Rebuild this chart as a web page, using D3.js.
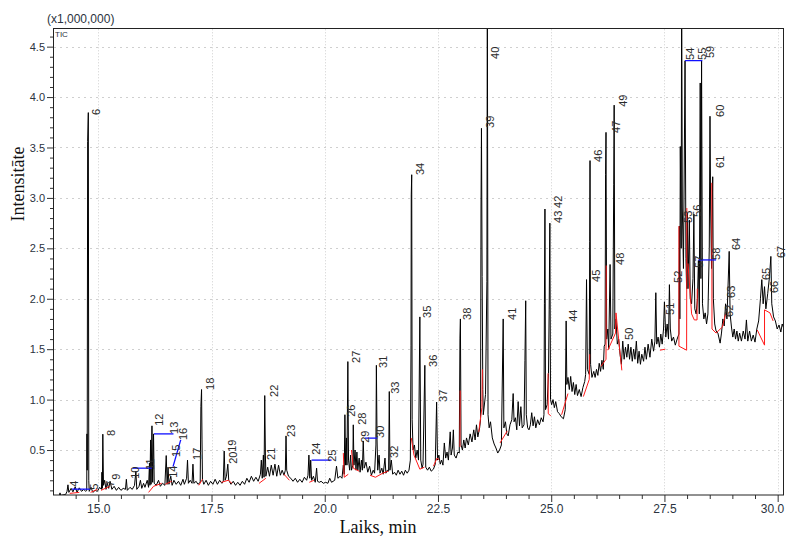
<!DOCTYPE html>
<html>
<head>
<meta charset="utf-8">
<script src="https://cdn.jsdelivr.net/npm/d3@7"></script>
<style>
  html, body { margin: 0; padding: 0; background: #fff; }
  svg { display: block; font-family: Arial, "Liberation Sans", sans-serif; }
</style>
</head>
<body>
<svg id="chart" width="786" height="536"></svg>
<script>
// Total ion chromatogram (TIC), intensity in millions of counts vs retention time (min)

const timeTicks = [15.0, 17.5, 20.0, 22.5, 25.0, 27.5, 30.0];
const intensityTicks = [0.5, 1.0, 1.5, 2.0, 2.5, 3.0, 3.5, 4.0, 4.5];

// Detector trace, 14-19 min
const traceEarly = [
  [14.00,0.04],[14.14,0.05],[14.155,0.075],[14.17,0.05],[14.28,0.06],[14.31,0.09],[14.33,0.155],[14.35,0.08],
  [14.40,0.12],[14.44,0.085],[14.49,0.135],[14.53,0.08],[14.58,0.125],[14.63,0.09],[14.68,0.11],[14.72,0.09],
  [14.745,0.10],[14.75,0.66],[14.755,0.30],[14.765,3.56],[14.78,3.846],[14.79,0.20],[14.80,0.09],[14.84,0.13],
  [14.88,0.08],[14.93,0.10],[14.98,0.09],[15.03,0.13],[15.07,0.11],[15.08,0.28],[15.09,0.12],[15.10,0.657],
  [15.115,0.15],[15.14,0.20],[15.17,0.11],[15.20,0.17],[15.23,0.12],[15.26,0.19],[15.30,0.11],[15.35,0.14],
  [15.40,0.10],[15.45,0.13],[15.50,0.10],[15.55,0.12],[15.60,0.11],[15.62,0.21],[15.64,0.10],[15.70,0.13],
  [15.75,0.11],[15.80,0.15],[15.83,0.29],[15.85,0.11],[15.90,0.14],[15.93,0.20],[15.96,0.12],[16.00,0.17],
  [16.03,0.13],[16.08,0.20],[16.11,0.13],[16.13,0.37],[16.14,0.15],[16.155,0.60],[16.165,0.16],[16.185,0.74],
  [16.20,0.18],[16.22,0.66],[16.235,0.17],[16.28,0.15],[16.33,0.20],[16.37,0.14],[16.42,0.17],[16.47,0.15],
  [16.50,0.445],[16.52,0.16],[16.54,0.33],[16.56,0.16],[16.60,0.24],[16.63,0.15],[16.67,0.20],[16.72,0.16],
  [16.77,0.19],[16.82,0.15],[16.87,0.21],[16.90,0.16],[16.95,0.22],[16.97,0.40],[16.99,0.17],[17.03,0.20],
  [17.07,0.17],[17.09,0.36],[17.11,0.17],[17.16,0.19],[17.20,0.16],[17.25,0.18],[17.265,0.93],[17.28,1.10],
  [17.29,0.60],[17.30,0.21],[17.33,0.16],[17.38,0.20],[17.43,0.15],[17.48,0.19],[17.53,0.16],[17.58,0.21],
  [17.63,0.16],[17.68,0.20],[17.73,0.17],[17.76,0.19],[17.78,0.49],[17.80,0.20],[17.83,0.24],[17.86,0.36],
  [17.88,0.20],[17.93,0.16],[17.98,0.19],[18.03,0.15],[18.08,0.18],[18.13,0.15],[18.18,0.19],[18.23,0.16],
  [18.28,0.22],[18.33,0.18],[18.38,0.24],[18.43,0.19],[18.48,0.23],[18.53,0.19],[18.58,0.26],[18.60,0.40],
  [18.62,0.22],[18.645,0.45],[18.66,0.23],[18.675,1.04],[18.69,0.45],[18.70,0.24],[18.74,0.33],[18.78,0.24],
  [18.82,0.35],[18.86,0.25],[18.90,0.36],[18.94,0.24],[18.98,0.35]
];

// Detector trace, 19-24.5 min
const traceMiddle = [
  [19.02,0.25],[19.06,0.30],[19.10,0.25],[19.13,0.30],[19.145,0.64],[19.16,0.30],[19.20,0.24],[19.25,0.22],
  [19.30,0.19],[19.35,0.22],[19.40,0.18],[19.45,0.21],[19.50,0.18],[19.55,0.23],[19.60,0.20],[19.63,0.25],
  [19.65,0.45],[19.67,0.22],[19.69,0.40],[19.71,0.20],[19.75,0.24],[19.79,0.18],[19.82,0.32],[19.84,0.19],
  [19.88,0.18],[19.92,0.19],[19.97,0.17],[20.02,0.18],[20.07,0.17],[20.11,0.22],[20.15,0.18],[20.22,0.20],
  [20.26,0.34],[20.29,0.22],[20.34,0.24],[20.38,0.22],[20.41,0.35],[20.43,0.26],[20.445,0.85],[20.46,0.35],
  [20.48,0.62],[20.49,0.35],[20.51,1.377],[20.525,0.40],[20.55,0.30],[20.57,0.45],[20.59,0.30],[20.62,0.35],
  [20.63,0.75],[20.645,0.35],[20.67,0.50],[20.69,0.30],[20.71,0.48],[20.73,0.30],[20.76,0.42],[20.78,0.28],
  [20.81,0.40],[20.83,0.30],[20.85,0.59],[20.87,0.32],[20.91,0.38],[20.95,0.28],[20.99,0.34],[21.03,0.25],
  [21.07,0.30],[21.10,0.27],[21.13,0.55],[21.14,1.34],[21.155,0.60],[21.17,0.30],[21.20,0.45],[21.22,0.27],
  [21.26,0.32],[21.29,0.26],[21.33,0.42],[21.35,0.27],[21.38,0.30],[21.41,0.29],[21.425,1.08],[21.44,0.30],
  [21.47,0.40],[21.50,0.26],[21.54,0.28],[21.58,0.25],[21.62,0.30],[21.66,0.26],[21.70,0.29],[21.74,0.25],
  [21.78,0.30],[21.82,0.27],[21.86,0.30],[21.89,0.40],[21.905,1.54],[21.91,3.03],[21.92,3.23],[21.93,0.80],
  [21.95,0.50],[21.98,0.55],[22.01,0.42],[22.04,0.50],[22.07,0.40],[22.10,1.82],[22.12,0.40],[22.15,0.32],
  [22.17,0.36],[22.21,1.34],[22.23,0.33],[22.27,0.30],[22.31,0.33],[22.35,0.29],[22.40,0.31],[22.44,0.36],
  [22.47,0.975],[22.49,0.40],[22.52,0.45],[22.55,0.36],[22.58,0.40],[22.61,0.35],[22.64,0.57],[22.67,0.42],
  [22.70,0.48],[22.73,0.40],[22.77,0.68],[22.79,0.45],[22.82,0.52],[22.84,0.70],[22.86,0.45],[22.90,0.42],
  [22.94,0.48],[22.97,0.47],[22.985,1.61],[22.995,1.80],[23.01,0.55],[23.04,0.50],[23.07,0.60],[23.10,0.52],
  [23.13,0.62],[23.17,0.55],[23.21,0.66],[23.25,0.58],[23.29,0.70],[23.32,0.60],[23.35,0.75],[23.38,0.63],
  [23.42,0.72],[23.44,0.80],[23.45,2.91],[23.46,3.69],[23.475,2.22],[23.49,1.10],[23.50,0.85],[23.55,1.05],
  [23.58,2.17],[23.59,5.20],[23.605,0.85],[23.63,0.72],[23.66,0.78],[23.70,0.62],[23.74,0.56],[23.78,0.52],
  [23.82,0.47],[23.86,0.50],[23.90,0.55],[23.94,1.80],[23.955,0.72],[23.99,0.78],[24.02,0.66],[24.05,0.64],
  [24.09,0.75],[24.13,0.80],[24.16,1.06],[24.18,0.78],[24.21,0.82],[24.24,0.70],[24.27,0.98],[24.30,0.74],
  [24.33,0.93],[24.36,0.72],[24.40,0.75],[24.42,1.39],[24.437,1.98],[24.45,0.85],[24.48,0.72]
];

// Detector trace, 24.5-30.1 min
const traceLate = [
  [24.51,0.70],[24.54,0.75],[24.57,0.87],[24.60,0.74],[24.63,0.83],[24.66,0.72],[24.70,0.80],[24.74,0.75],
  [24.78,0.82],[24.82,0.78],[24.84,0.85],[24.85,1.95],[24.862,2.89],[24.875,0.90],[24.91,0.95],[24.94,1.26],
  [24.955,1.89],[24.97,2.75],[24.985,1.00],[25.01,0.95],[25.04,1.00],[25.07,0.92],[25.10,0.98],[25.14,0.88],
  [25.18,0.86],[25.22,0.83],[25.27,0.81],[25.31,0.90],[25.33,1.78],[25.345,1.15],[25.37,1.22],[25.40,1.10],
  [25.43,1.23],[25.46,1.08],[25.49,1.17],[25.52,1.05],[25.55,1.15],[25.58,1.04],[25.62,1.10],[25.66,1.03],
  [25.70,1.12],[25.74,1.18],[25.76,1.25],[25.78,2.19],[25.80,1.30],[25.84,1.25],[25.85,2.57],[25.857,3.37],
  [25.87,1.35],[25.90,1.22],[25.94,1.28],[25.97,1.22],[26.00,1.30],[26.03,1.24],[26.06,1.36],[26.09,1.28],
  [26.12,1.39],[26.15,1.30],[26.17,1.53],[26.19,1.55],[26.20,3.23],[26.21,3.65],[26.225,1.60],[26.25,1.70],
  [26.27,1.50],[26.30,2.34],[26.32,1.60],[26.36,1.65],[26.38,3.13],[26.39,3.92],[26.405,1.70],[26.43,1.80],
  [26.46,1.55],[26.49,1.60],[26.52,1.45],[26.55,1.35],[26.58,1.58],[26.61,1.40],[26.64,1.52],[26.67,1.42],
  [26.70,1.55],[26.73,1.40],[26.76,1.52],[26.79,1.38],[26.82,1.50],[26.85,1.40],[26.88,1.58],[26.91,1.36],
  [26.94,1.48],[26.97,1.35],[27.00,1.45],[27.04,1.38],[27.07,1.52],[27.10,1.40],[27.14,1.55],[27.18,1.42],
  [27.22,1.60],[27.26,1.48],[27.29,1.58],[27.31,2.06],[27.33,1.55],[27.36,1.62],[27.39,1.52],[27.42,1.65],
  [27.45,1.55],[27.48,1.70],[27.50,1.97],[27.53,1.62],[27.56,1.75],[27.59,1.60],[27.61,2.14],[27.63,1.70],
  [27.66,1.58],[27.70,1.62],[27.74,1.54],[27.78,1.60],[27.82,1.65],[27.83,2.72],[27.84,1.80],[27.85,3.51],
  [27.87,2.50],[27.88,5.20],[27.895,2.90],[27.92,2.30],[27.955,4.36],[27.975,2.40],[27.99,2.10],[28.006,2.85],
  [28.02,2.10],[28.05,2.78],[28.07,2.00],[28.10,1.95],[28.13,2.20],[28.15,2.84],[28.17,1.90],[28.20,1.85],
  [28.23,2.00],[28.25,2.38],[28.27,1.85],[28.29,4.14],[28.305,2.20],[28.32,4.36],[28.34,1.95],[28.37,1.80],
  [28.40,1.86],[28.43,1.75],[28.46,1.85],[28.49,2.50],[28.506,3.81],[28.52,2.90],[28.54,2.30],[28.566,3.21],
  [28.58,2.00],[28.61,1.75],[28.64,1.68],[28.68,1.66],[28.73,1.56],[28.76,1.66],[28.79,1.80],[28.82,1.73],
  [28.85,1.95],[28.88,1.80],[28.93,2.47],[28.95,1.85],[28.98,1.72],[29.01,1.62],[29.04,1.70],[29.07,1.60],
  [29.10,1.68],[29.13,1.58],[29.16,1.66],[29.20,1.58],[29.24,1.68],[29.28,1.60],[29.31,1.79],[29.34,1.58],
  [29.38,1.68],[29.42,1.58],[29.46,1.64],[29.50,1.57],[29.54,1.70],[29.58,1.78],[29.62,2.00],[29.65,2.19],
  [29.68,1.95],[29.71,2.12],[29.74,1.90],[29.78,2.05],[29.82,2.22],[29.85,2.42],[29.87,1.95],[29.91,1.82],
  [29.95,1.78],[29.99,1.70],[30.03,1.74],[30.07,1.67],[30.10,1.75],[30.14,1.70]
];

// Integration baselines (red)
const integrationBaselines = [
  [[14.37,0.07],[14.58,0.08]],
  [[14.83,0.08],[14.98,0.11]],
  [[15.06,0.10],[15.25,0.14]],
  [[16.11,0.08],[16.22,0.14],[16.40,0.17]],
  [[16.48,0.16],[16.62,0.19]],
  [[17.22,0.15],[17.30,0.21]],
  [[17.72,0.18],[17.87,0.20],[17.95,0.17]],
  [[18.55,0.17],[18.70,0.22]],
  [[19.10,0.26],[19.22,0.20]],
  [[19.66,0.18],[19.76,0.20]],
  [[20.41,0.47],[20.43,0.23],[20.52,0.26]],
  [[20.59,0.50],[20.63,0.32],[20.76,0.29]],
  [[21.00,0.25],[21.12,0.23],[21.28,0.27],[21.40,0.29]],
  [[21.91,0.62],[21.97,0.45],[22.10,0.31],[22.20,0.33]],
  [[22.40,0.34],[22.48,0.42],[22.53,0.40]],
  [[22.985,0.53],[22.99,1.09]],
  [[23.40,0.68],[23.47,0.92],[23.48,1.30]],
  [[23.87,0.57],[24.03,0.69]],
  [[24.93,1.26],[24.935,0.86],[24.99,0.84]],
  [[25.23,0.85],[25.37,1.06]],
  [[25.71,1.03],[25.84,1.20],[25.85,1.45]],
  [[26.10,1.33],[26.21,1.40],[26.215,2.33]],
  [[26.25,1.49],[26.42,1.66],[26.43,1.86],[26.56,1.29]],
  [[27.40,1.49],[27.52,1.50]],
  [[27.82,2.72],[27.82,1.53],[27.99,1.49],[27.995,2.90]],
  [[28.02,2.35],[28.10,1.85],[28.16,1.79],[28.22,1.79],[28.225,2.10]],
  [[28.545,3.15],[28.55,1.70],[28.64,1.66],[28.78,1.72],[28.85,1.85]],
  [[29.55,1.69],[29.71,1.54],[29.71,1.89],[29.83,1.86],[29.90,1.78]]
];

// Unresolved-group markers (blue)
const groupMarkers = [
  [[14.42,0.112],[14.82,0.112]],
  [[15.76,0.32],[16.18,0.32]],
  [[16.23,0.66],[16.66,0.66]],
  [[16.65,0.335],[16.82,0.60]],
  [[19.71,0.40],[20.15,0.40]],
  [[20.89,0.618],[21.16,0.618]],
  [[27.955,4.361],[28.337,4.361]],
  [[28.25,2.385],[28.64,2.385]]
];

// Peak numbers and the point each number is written from
const peakIds = [4,5,6,7,8,9,10,11,12,13,14,15,16,17,18,19,20,21,22,23,24,25,26,27,28,29,30,31,32,33,34,35,
  36,37,38,39,40,41,42,43,44,45,46,47,48,49,50,51,52,53,54,55,56,57,58,59,60,61,62,63,64,65,66,67];
const peakTimes = [14.34,14.78,14.82,15.14,15.15,15.26,15.68,16.01,16.20,16.54,16.52,16.59,16.74,17.04,17.33,
  17.82,17.84,18.68,18.74,19.12,19.67,20.04,20.45,20.56,20.70,20.76,21.09,21.15,21.39,21.42,21.97,22.13,22.25,
  22.48,23.01,23.52,23.63,24.01,25.01,25.01,25.35,25.86,25.90,26.30,26.39,26.45,26.59,27.49,27.66,27.88,27.93,
  28.21,28.10,28.13,28.51,28.38,28.60,28.60,28.79,28.84,28.95,29.62,29.79,29.94];
const peakLabelHeights = [0.135,0.105,3.823,0.135,0.640,0.204,0.214,0.303,0.740,0.660,0.224,0.432,0.599,0.402,
  1.096,0.482,0.363,0.402,1.026,0.630,0.452,0.383,0.829,1.364,0.750,0.571,0.620,1.314,0.422,1.057,3.227,1.810,
  1.324,0.977,1.790,3.694,4.378,1.790,2.901,2.752,1.771,2.167,3.357,3.644,2.336,3.904,1.592,1.840,2.157,2.752,
  4.368,4.368,2.812,2.306,2.385,4.387,3.803,3.297,1.820,2.008,2.483,2.186,2.057,2.404];

const box = { left: 53, right: 784, top: 28.3, bottom: 495 };

const svg = d3.select("#chart");

const x = d3.scaleLinear().domain([14.0, 30.14]).range([box.left, box.right]);
const y = d3.scaleLinear().domain([0.054, 4.682]).range([box.bottom, box.top]);

svg.append("defs").append("clipPath").attr("id", "plotClip")
  .append("rect")
  .attr("x", box.left).attr("y", box.top)
  .attr("width", box.right - box.left).attr("height", box.bottom - box.top);

// Grid
const grid = svg.append("g").attr("stroke", "#cfcfcf").attr("stroke-width", 1).attr("fill", "none");
grid.selectAll("line.h").data(intensityTicks).join("line")
  .attr("class", "h")
  .attr("x1", box.left + 1).attr("x2", box.right - 1)
  .attr("y1", d => Math.round(y(d)) + 0.5).attr("y2", d => Math.round(y(d)) + 0.5)
  .attr("stroke-dasharray", "2,4");
grid.selectAll("line.v").data(timeTicks).join("line")
  .attr("class", "v")
  .attr("x1", d => Math.round(x(d)) + 0.5).attr("x2", d => Math.round(x(d)) + 0.5)
  .attr("y1", box.top + 1).attr("y2", box.bottom - 1)
  .attr("stroke-dasharray", "1,2");

// Chromatogram
const line = d3.line().x(d => x(d[0])).y(d => y(d[1]));
const plot = svg.append("g").attr("clip-path", "url(#plotClip)");
plot.append("path")
  .datum(traceEarly.concat(traceMiddle, traceLate))
  .attr("d", line)
  .attr("fill", "none")
  .attr("stroke", "#000")
  .attr("stroke-width", 1)
  .attr("stroke-linejoin", "miter");

plot.selectAll("path.base").data(integrationBaselines).join("path")
  .attr("class", "base")
  .attr("d", line)
  .attr("fill", "none")
  .attr("stroke", "#ff1a1a")
  .attr("stroke-width", 1);

plot.selectAll("path.group").data(groupMarkers).join("path")
  .attr("class", "group")
  .attr("d", line)
  .attr("fill", "none")
  .attr("stroke", "#1010ff")
  .attr("stroke-width", 1.3);

// Peak numbers, written upward from each anchor
svg.append("g")
  .selectAll("text").data(peakIds).join("text")
  .attr("transform", (d, i) => `translate(${x(peakTimes[i]) + 6},${y(peakLabelHeights[i])}) rotate(-90)`)
  .attr("dy", "0.35em")
  .attr("text-anchor", "start")
  .attr("font-size", 11)
  .attr("fill", "#2a2a2a")
  .text(d => d);

// Axes
const fmt = d3.format(".1f");
const yMinor = d3.range(1, 47).map(i => i / 10).filter(v => Math.abs(v * 2 - Math.round(v * 2)) > 1e-6);
const xMinor = d3.range(29, 61).map(i => i / 2).filter(v => !timeTicks.some(t => Math.abs(t - v) < 1e-6));

const yAxis = svg.append("g").attr("transform", `translate(${box.left},0)`)
  .call(d3.axisLeft(y).tickValues(intensityTicks).tickFormat(fmt).tickSizeInner(6).tickSizeOuter(0).tickPadding(2));
const yAxisMinor = svg.append("g").attr("transform", `translate(${box.left},0)`)
  .call(d3.axisLeft(y).tickValues(yMinor).tickFormat("").tickSizeInner(3).tickSizeOuter(0));
const xAxis = svg.append("g").attr("transform", `translate(0,${box.bottom})`)
  .call(d3.axisBottom(x).tickValues(timeTicks).tickFormat(fmt).tickSizeInner(7).tickSizeOuter(0).tickPadding(2));
const xAxisMinor = svg.append("g").attr("transform", `translate(0,${box.bottom})`)
  .call(d3.axisBottom(x).tickValues(xMinor).tickFormat("").tickSizeInner(4).tickSizeOuter(0));

[yAxis, yAxisMinor, xAxis, xAxisMinor].forEach(g => {
  g.select(".domain").remove();
  g.selectAll(".tick line").attr("stroke", "#333");
});
yAxis.selectAll(".tick text").attr("font-size", 11).attr("fill", "#2b3340")
  .attr("font-family", "Arial, 'Liberation Sans', sans-serif");
xAxis.selectAll(".tick text").attr("font-size", 12).attr("fill", "#2b3340")
  .attr("font-family", "Arial, 'Liberation Sans', sans-serif");
// the last time label sits against the right edge of the canvas
xAxis.selectAll(".tick text").filter(d => d === 30.0).attr("text-anchor", "end").attr("dx", 6);

// Frame
svg.append("rect")
  .attr("x", box.left + 0.5).attr("y", Math.round(box.top) + 0.5)
  .attr("width", box.right - box.left - 1).attr("height", box.bottom - Math.round(box.top) - 0.5)
  .attr("fill", "none").attr("stroke", "#222").attr("stroke-width", 1);

// Titles
svg.append("text").attr("x", 47).attr("y", 23)
  .attr("font-size", 12).attr("fill", "#2b3340").text("(x1,000,000)");
svg.append("text").attr("x", 55).attr("y", 37)
  .attr("font-size", 8).attr("fill", "#2b3340").text("TIC");
svg.append("text")
  .attr("transform", "translate(24,184) rotate(-90)")
  .attr("text-anchor", "middle")
  .attr("font-family", "'Liberation Serif', 'Times New Roman', serif")
  .attr("font-size", 18).attr("fill", "#111")
  .text("Intensitāte");
svg.append("text")
  .attr("x", 378).attr("y", 533)
  .attr("text-anchor", "middle")
  .attr("font-family", "'Liberation Serif', 'Times New Roman', serif")
  .attr("font-size", 18).attr("fill", "#111")
  .text("Laiks, min");
</script>
</body>
</html>
